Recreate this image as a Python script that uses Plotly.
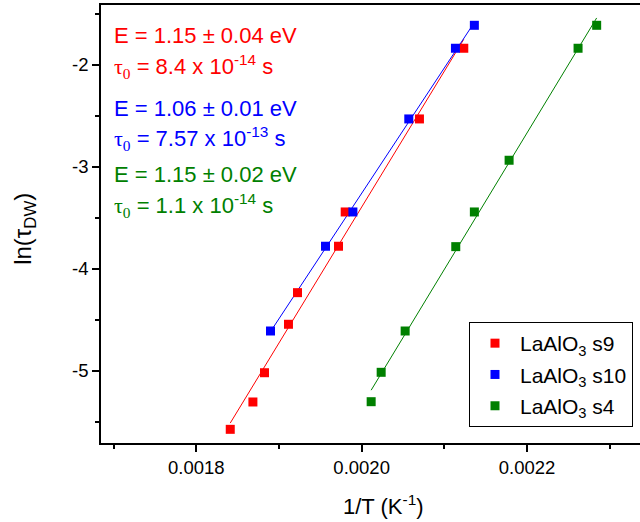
import numpy as np
import plotly.graph_objects as go

# ---- data ----
s9_x = [0.0018411, 0.0018685, 0.0018825, 0.0019115, 0.0019224, 0.0019720, 0.0019801, 0.0020699, 0.0021235]
s9_y = [-5.572, -5.304, -5.017, -4.542, -4.232, -3.777, -3.441, -2.529, -1.836]

s10_x = [0.0018898, 0.0019563, 0.0019894, 0.0020570, 0.0021134, 0.0021363]
s10_y = [-4.608, -3.777, -3.441, -2.529, -1.836, -1.611]

s4_x = [0.0020115, 0.0020236, 0.0020526, 0.0021138, 0.0021363, 0.0021783, 0.0022617, 0.0022842]
s4_y = [-5.301, -5.013, -4.608, -3.781, -3.441, -2.934, -1.836, -1.611]

series_names = ["LaAlO<sub>3</sub> s9", "LaAlO<sub>3</sub> s10", "LaAlO<sub>3</sub> s4"]
series_colors = ["#FF0000", "#0000FF", "#008000"]

x_ticks = [0.0018, 0.0020, 0.0022]
x_ticktext = ["0.0018", "0.0020", "0.0022"]
y_ticks = [-5, -4, -3, -2]
y_ticktext = ["-5", "-4", "-3", "-2"]

energy_labels = ["E = 1.15 ± 0.04 eV", "E = 1.06 ± 0.01 eV", "E = 1.15 ± 0.02 eV"]
tau_mantissa = ["8.4", "7.57", "1.1"]
tau_exponent = ["-14", "-13", "-14"]

FONT = "Liberation Sans, Arial, sans-serif"
SERIF = "Liberation Serif, Times New Roman, serif"

fig = go.Figure()
data = [(s9_x, s9_y), (s10_x, s10_y), (s4_x, s4_y)]

# fit lines (linear regression of each series)
for (xs, ys), col in zip(data, series_colors):
    xs_a = np.array(xs)
    ys_a = np.array(ys)
    k, b = np.polyfit(xs_a, ys_a, 1)
    xl = np.array([xs_a.min(), xs_a.max()])
    fig.add_trace(go.Scatter(x=xl, y=k * xl + b, mode="lines",
                             line=dict(color=col, width=1), showlegend=False,
                             hoverinfo="skip"))

for i, ((xs, ys), name, col) in enumerate(zip(data, series_names, series_colors)):
    fig.add_trace(go.Scatter(x=xs, y=ys, mode="markers", name=name, legendgroup=f"g{i}",
                             marker=dict(symbol="square", size=9, color=col,
                                         line=dict(width=0))))

annotations = []
y_rows = [(0.9315, 0.859), (0.764, 0.696), (0.612, 0.543)]
for i in range(3):
    col = series_colors[i]
    ye, yt = y_rows[i]
    annotations.append(dict(x=0.02, y=ye, xref="paper", yref="paper", xanchor="left",
                            yanchor="middle", showarrow=False, text=energy_labels[i],
                            font=dict(family=FONT, size=22, color=col)))
    tau_txt = (f"<span style='font-family:{SERIF}'>τ<sub>0</sub></span>"
               f" = {tau_mantissa[i]} x 10<sup>{tau_exponent[i]}</sup> s")
    annotations.append(dict(x=0.02, y=yt, xref="paper", yref="paper", xanchor="left",
                            yanchor="middle", showarrow=False, text=tau_txt,
                            font=dict(family=FONT, size=22, color=col)))

# axis titles
annotations.append(dict(x=0.525, y=-0.1416, xref="paper", yref="paper", xanchor="center",
                        yanchor="middle", showarrow=False, text="1/T (K<sup>-1</sup>)",
                        font=dict(family=FONT, size=22, color="black")))
annotations.append(dict(x=-0.142, y=0.49, xref="paper", yref="paper", xanchor="center",
                        yanchor="middle", showarrow=False, textangle=-90,
                        text="ln(τ<sub>DW</sub>)",
                        font=dict(family=FONT, size=24, color="black")))

fig.update_layout(
    width=640, height=522,
    margin=dict(l=101, r=0, t=5, b=79),
    paper_bgcolor="white", plot_bgcolor="white",
    font=dict(family=FONT, color="black"),
    annotations=annotations,
    legend=dict(x=0.987, y=0.0365, xanchor="right", yanchor="bottom",
                bordercolor="black", borderwidth=1, bgcolor="white",
                tracegroupgap=1, itemwidth=40,
                font=dict(family=FONT, size=21, color="black")),
)
fig.update_xaxes(range=[0.0016848, 0.0023366], tickvals=x_ticks, ticktext=x_ticktext,
                 ticks="outside", ticklen=7, tickwidth=1.5, tickcolor="black",
                 showline=True, linecolor="black", linewidth=1.6, mirror=True,
                 showgrid=False, zeroline=False,
                 tickfont=dict(family=FONT, size=18.5, color="black"),
                 minor=dict(tickvals=[0.0017, 0.0019, 0.0021, 0.0023], ticks="outside",
                            ticklen=4, tickwidth=1.5, tickcolor="black", showgrid=False))
fig.update_yaxes(range=[-5.706, -1.412], tickvals=y_ticks, ticktext=y_ticktext,
                 ticks="outside", ticklen=7, tickwidth=1.5, tickcolor="black",
                 showline=True, linecolor="black", linewidth=1.6, mirror=False,
                 showgrid=False, zeroline=False,
                 tickfont=dict(family=FONT, size=18.5, color="black"),
                 minor=dict(tickvals=[-5.5, -4.5, -3.5, -2.5, -1.5], ticks="outside",
                            ticklen=4, tickwidth=1.5, tickcolor="black", showgrid=False))

fig.write_html("out.html")
